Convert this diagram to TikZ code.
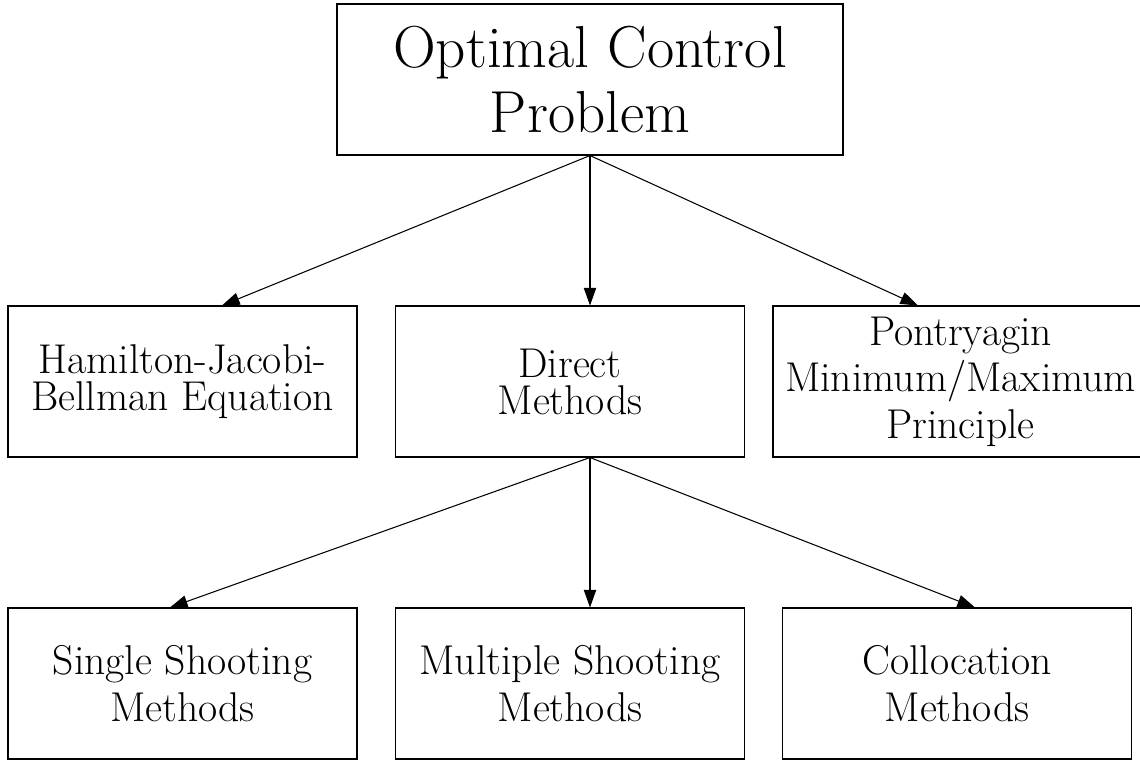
\documentclass[tikz,border=0pt]{standalone}
\usepackage{tikz}
\usetikzlibrary{arrows.meta}
\tikzset{>={Triangle[length=10pt,width=7pt]}}
\tikzset{%
    box/.style={%
        draw, line width=0.6pt, inner sep=0pt, align=center,
        minimum width=6.98cm, minimum height=3.02cm,
        font=\fontsize{23.7}{26.5}\selectfont
    },
    tight/.style={font=\fontsize{23.7}{21}\selectfont},
    link/.style={->, line width=0.6pt}
}

\begin{document}
\begin{tikzpicture}
    \useasboundingbox (0,0) rectangle (22.8,-15.2);
    \node[box, minimum width=10.12cm, font=\fontsize{33.7}{37.5}\selectfont] (ocp) at (11.8,-1.59) {Optimal Control\\Problem};
%   middle row
    \node[box, tight] (hjb) at (3.65,-7.63) {Hamilton-Jacobi-\\Bellman Equation};
    \node[box, tight] (dm) at (11.4,-7.63) {Direct\\Methods};
    \node[box, minimum width=7.5cm] (pmp) at (19.21,-7.63) {Pontryagin\\Minimum/Maximum\\Principle};
%   bottom row
    \node[box] (ssm) at (3.65,-13.67) {Single Shooting\\Methods};
    \node[box] (msm) at (11.4,-13.67) {Multiple Shooting\\Methods};
    \node[box] (col) at (19.14,-13.67) {Collocation\\Methods};
    \coordinate (split) at (ocp.south |- dm.south);
    \draw[link] (ocp.south) -- ([xshift=0.79cm]hjb.north);
    \draw[link] (ocp.south) -- (ocp.south |- dm.north);
    \draw[link] (ocp.south) -- ([xshift=-0.85cm]pmp.north);
    \draw[link] (split) -- ([xshift=-0.25cm]ssm.north);
    \draw[link] (split) -- (split |- msm.north);
    \draw[link] (split) -- ([xshift=0.36cm]col.north);
\end{tikzpicture}
\end{document}
